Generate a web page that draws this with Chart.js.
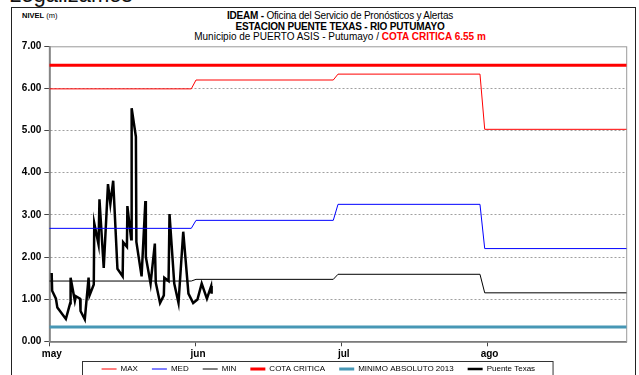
<!DOCTYPE html>
<html>
<head>
<meta charset="utf-8">
<script src="https://cdn.jsdelivr.net/npm/chart.js@4.4.1/dist/chart.umd.min.js"></script>
<style>
  html, body { margin: 0; padding: 0; background: #fff; }
  #wrap { position: relative; width: 639px; height: 375px; overflow: hidden; font-family: "Liberation Sans", Arial, sans-serif; color: #000; }
  #frame { position: absolute; left: 11px; top: 7px; width: 625px; height: 420px; border: 1.5px solid #222; box-sizing: border-box; }
  #grafica { position: absolute; left: 0; top: 0; }
  .encabezado { position: absolute; left: 9px; top: -18px; font-size: 22px; white-space: nowrap; color: #111; }
  .nivel { position: absolute; left: 22px; top: 11px; font-size: 7.5px; line-height: 9px; white-space: nowrap; }
  .titulo { position: absolute; left: 140px; width: 400px; text-align: center; font-size: 10px; line-height: 11px; white-space: nowrap; }
  .rojo { color: #ff0000; font-weight: bold; }
</style>
</head>
<body>
<div id="wrap">
  <div class="encabezado">Legalizamos</div>
  <div id="frame"></div>
  <div class="nivel"><b>NIVEL</b> (m)</div>
  <div class="titulo" style="top:10px; letter-spacing:-0.2px"><b>IDEAM -</b> Oficina del Servicio de Pronósticos y Alertas</div>
  <div class="titulo" style="top:20.5px; letter-spacing:-0.2px"><b>ESTACION PUENTE TEXAS - RIO PUTUMAYO</b></div>
  <div class="titulo" style="top:31px">Municipio de PUERTO ASIS - Putumayo / <span class="rojo">COTA CRITICA 6.55 m</span></div>
  <canvas id="grafica" width="639" height="393"></canvas>
</div>
<script>
// dias contados desde el 1 de mayo
const monthStart = [0, 31, 61, 92];
const monthEnd = [30, 60, 91, 122];
const monthTickDays = [0, 30.9, 61.7, 92.5];
const monthLabels = ["may", "jun", "jul", "ago"];
const yTicks = [0, 1, 2, 3, 4, 5, 6, 7];

// niveles historicos mensuales (m)
const maxByMonth = [5.99, 6.20, 6.34, 5.03];
const medByMonth = [2.68, 2.87, 3.25, 2.20];
const minByMonth = [1.43, 1.47, 1.59, 1.15];
const cotaCritica = 6.55;
const minimoAbs2013 = 0.34;

// lecturas Puente Texas
const ptDays = [0.5, 0.6, 1.4, 1.7, 3.5, 4.4, 4.5, 5.4, 5.6, 6.5, 6.6, 7.5, 8.3, 8.5, 9.4,
  9.5, 10.4, 10.6, 11.5, 12.4, 12.9, 13.5, 14.4, 15.5, 15.6, 16.4, 16.5, 17.3, 17.4, 18.3,
  18.4, 19.5, 20.3, 20.4, 21.4, 22.3, 22.5, 23.4, 24.2, 24.3, 25.2, 25.4, 26.4, 27.3, 28.3,
  29.4, 30.4, 31.3, 32.2, 33.3, 34.2, 34.3];
const ptLevels = [1.62, 1.20, 1.01, 0.80, 0.53, 0.90, 1.51, 0.96, 1.07, 1.01, 0.72, 0.52, 1.51, 1.09, 1.35,
  2.80, 2.30, 3.37, 1.74, 3.73, 3.26, 3.81, 1.72, 1.54, 2.35, 2.24, 3.21, 2.42, 5.53, 4.85,
  2.36, 1.54, 3.33, 2.00, 1.37, 2.32, 1.39, 0.91, 1.09, 1.51, 1.43, 3.02, 1.37, 0.91, 2.60,
  1.13, 0.91, 0.99, 1.37, 1.01, 1.31, 1.13];

const fontFamily = '"Liberation Sans", Arial, sans-serif';
Chart.defaults.font.family = fontFamily;
Chart.defaults.color = "#000";

// one flat segment per month, joined day to day
function monthly(values) {
  let pts = [];
  values.forEach((v, i) => {
    pts.push({ x: monthStart[i], y: v });
    pts.push({ x: monthEnd[i], y: v });
  });
  return pts;
}
function constant(v) {
  return [{ x: monthStart[0], y: v }, { x: monthEnd[monthEnd.length - 1], y: v }];
}

const datasets = [
  { label: "MAX", data: monthly(maxByMonth), borderColor: "#ff0000", borderWidth: 1 },
  { label: "MED", data: monthly(medByMonth), borderColor: "#0000ff", borderWidth: 1 },
  { label: "MIN", data: monthly(minByMonth), borderColor: "#000000", borderWidth: 1 },
  { label: "COTA CRITICA", data: constant(cotaCritica), borderColor: "#ff0000", borderWidth: 3 },
  { label: "MINIMO ABSOLUTO 2013", data: constant(minimoAbs2013), borderColor: "#4797b5", borderWidth: 3 },
  {
    label: "Puente Texas",
    data: ptDays.map((d, i) => ({ x: d, y: ptLevels[i] })),
    borderColor: "#000000",
    borderWidth: 2.5,
  },
];

// plot frame, legend box, and legend pulled up a bit under the month labels
const marcos = {
  id: "marcos",
  afterLayout(chart) {
    const lg = chart.legend;
    lg.top -= 10;
    lg.bottom -= 10;
  },
  beforeDatasetsDraw(chart) {
    const a = chart.chartArea;
    const ctx = chart.ctx;
    ctx.save();
    ctx.strokeStyle = "#9a9a9a";
    ctx.lineWidth = 1;
    ctx.strokeRect(a.left, a.top + 0.5, a.right - a.left, a.bottom - a.top);
    ctx.restore();
  },
  afterDraw(chart) {
    const hb = chart.legend.legendHitBoxes;
    if (!hb || !hb.length) return;
    const last = hb[hb.length - 1];
    const left = hb[0].left - 20;
    const right = last.left + last.width + 17;
    const ctx = chart.ctx;
    ctx.save();
    ctx.strokeStyle = "#333";
    ctx.lineWidth = 1;
    ctx.strokeRect(Math.round(left) + 0.5, 361.5, right - left, 40);
    ctx.restore();
  },
};

new Chart(document.getElementById("grafica"), {
  type: "line",
  data: { datasets: datasets },
  plugins: [marcos],
  options: {
    responsive: false,
    animation: false,
    layout: { padding: { left: 10, right: 12.3, top: 46.3, bottom: 0 } },
    elements: {
      point: { radius: 0 },
      line: { tension: 0, fill: false },
    },
    plugins: {
      tooltip: { enabled: false },
      legend: {
        position: "bottom",
        labels: {
          usePointStyle: true,
          pointStyle: "line",
          pointStyleWidth: 15,
          padding: 14,
          color: "#000",
          font: { size: 8, family: fontFamily },
        },
      },
    },
    scales: {
      x: {
        type: "linear",
        min: 0,
        max: 122,
        afterBuildTicks: (s) => {
          s.ticks = monthTickDays.map((v) => ({ value: v }));
        },
        afterFit: (s) => {
          s.height = 19.7;
        },
        ticks: {
          autoSkip: false,
          maxRotation: 0,
          padding: 2,
          labelOffset: 2.5,
          color: "#000",
          font: { size: 10, weight: "bold" },
          callback: (v, i) => monthLabels[i],
        },
        grid: { drawOnChartArea: false, drawTicks: true, tickLength: 5, tickColor: "#444", tickBorderDash: [] },
        border: { color: "#333", width: 1.5 },
      },
      y: {
        min: 0,
        max: 7,
        afterBuildTicks: (s) => {
          s.ticks = yTicks.map((v) => ({ value: v }));
        },
        afterFit: (s) => {
          s.width = 39.3;
        },
        ticks: {
          padding: 3,
          color: "#000",
          font: { size: 10, weight: "bold" },
          callback: (v) => v.toFixed(2),
        },
        grid: {
          color: (c) => (c.tick && (c.tick.value === 0 || c.tick.value === 7) ? "rgba(0,0,0,0)" : "#a0a0a0"),
          tickColor: "#444",
          tickLength: 5,
          tickBorderDash: [],
        },
        border: { color: "#333", width: 1.5, dash: [2, 2] },
      },
    },
  },
});
</script>
</body>
</html>
